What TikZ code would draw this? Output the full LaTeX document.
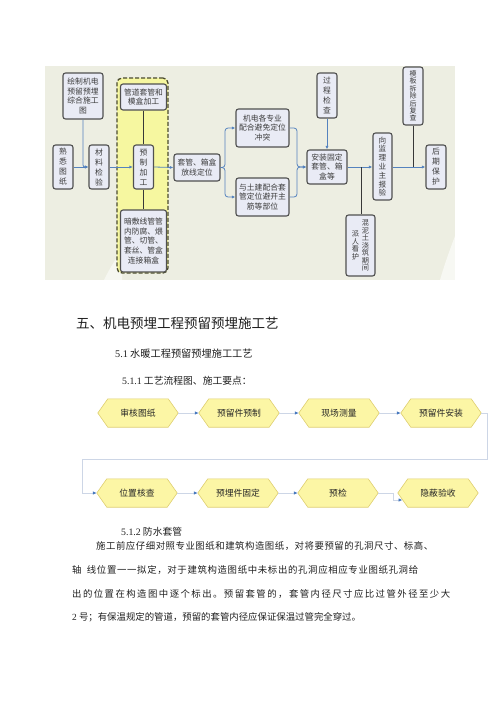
\documentclass[tikz,border=0pt]{standalone}
\usepackage{fontspec}
\setmainfont{Noto Sans CJK SC}
\newfontfamily\tnr{Liberation Serif}
\usetikzlibrary{arrows.meta}
\definecolor{panelbg}{RGB}{237,238,226}
\definecolor{boxfill}{RGB}{233,235,245}
\definecolor{boxdraw}{RGB}{80,80,80}
\definecolor{boxtext}{RGB}{60,60,60}
\definecolor{flowblue}{RGB}{84,130,190}
\definecolor{hlyellow}{RGB}{246,247,160}
\definecolor{hldraw}{RGB}{75,75,45}
\definecolor{hexfill}{RGB}{252,246,165}
\definecolor{hexdraw}{RGB}{222,206,112}
\definecolor{lineblue}{RGB}{205,214,230}
\definecolor{tipblue}{RGB}{70,120,190}
\definecolor{bodytext}{RGB}{30,30,30}
\pgfdeclarelayer{bg}
\pgfsetlayers{bg,main}
\makeatletter
\def\spr@aux#1#2\relax{#1\ifx\relax#2\relax\else\hfill\spr@aux#2\relax\fi}
\newcommand\spreadline[2]{\hbox to #1{\spr@aux#2\relax}}
\makeatother
\def\gap{\hskip4pt}
\newcommand\vcol[1]{\parbox[c]{8pt}{\centering #1}}
\tikzset{
  box/.style={draw=boxdraw, line width=1.1pt, fill=boxfill, rounded corners=2.5pt,
    inner sep=0pt, align=center, text=boxtext, font=\fontsize{7.8}{9.6}\selectfont},
  vbox/.style={box, font=\fontsize{7.8}{10}\selectfont},
  flow/.style={draw=flowblue, line width=0.8pt, -{Latex[length=3.5pt,width=3pt]}},
  plain/.style={draw=boxdraw!70!black, line width=0.9pt},
  hlregion/.style={draw=hldraw, fill=hlyellow, line width=1.3pt, dash pattern=on 4pt off 2pt, rounded corners=5pt, inner sep=0pt},
  hexlabel/.style={font=\fontsize{8.8}{10}\selectfont, text=black!85, minimum width=80pt, minimum height=28pt, inner sep=0pt},
  hexshape/.style={fill=hexfill, draw=hexdraw, line width=0.6pt},
  link/.style={draw=lineblue, line width=0.9pt, -{Latex[length=4pt,width=3.5pt,color=tipblue]}},
  txt/.style={anchor=west, inner sep=0pt, text=bodytext},
}
\newcommand\hexnode[4]{%
  \node[hexlabel] (#1) at (#2,#3) {#4};
  \begin{pgfonlayer}{bg}
  \path[hexshape] (#1.west) -- ([xshift=10pt]#1.north west) -- ([xshift=-10pt]#1.north east)
     -- (#1.east) -- ([xshift=-10pt]#1.south east) -- ([xshift=10pt]#1.south west) -- cycle;
  \end{pgfonlayer}}
\begin{document}
\begin{tikzpicture}[x=1pt,y=-1pt]
\useasboundingbox (0,0) rectangle (500,707);
% panel
\fill[panelbg] (45,66) rectangle (455,280);
\fill[white, opacity=0.55] (104,280) .. controls (110,268) and (116,258) .. (122,250) -- (122,280) -- cycle;
\fill[white, opacity=0.6] (455,236) .. controls (449,252) and (444,266) .. (440,280) -- (455,280) -- cycle;
\node[hlregion, minimum width=51pt, minimum height=195pt] (hl) at (142.5,175.5) {};
% boxes
\node[vbox, minimum width=20pt, minimum height=44pt] (shutu) at (63,167) {熟\\悉\\图\\纸};
\node[box, minimum width=40pt, minimum height=46pt] (huizhi) at (83,96) {绘制机电\\预留预埋\\综合施工\\图};
\node[vbox, minimum width=20pt, minimum height=44pt] (cailiao) at (99,167) {材\\料\\检\\验};
\node[box, minimum width=46pt, minimum height=26pt] (guandao) at (143.5,97) {管道套管和\\模盒加工};
\node[vbox, minimum width=20pt, minimum height=44pt] (yuzhi) at (143.5,167) {预\\制\\加\\工};
\node[box, minimum width=46pt, minimum height=62pt] (anfu) at (143.5,241) {暗敷线管管\\内防腐、煨\\管、切管、\\套丝、管盒\\连接箱盒};
\node[box, minimum width=46pt, minimum height=27pt] (taoguan) at (197,167.5) {套管、箱盒\\放线定位};
\node[box, minimum width=53pt, minimum height=38pt] (jidian) at (262.5,128) {机电各专业\\配合避免定位\\冲突};
\node[box, minimum width=53pt, minimum height=38pt] (tujian) at (262.5,197) {与土建配合套\\管定位避开主\\筋等部位};
\node[vbox, minimum width=20pt, minimum height=45pt] (guocheng) at (327,95.5) {过\\程\\检\\查};
\node[box, minimum width=40pt, minimum height=34pt] (anzhuang) at (327,167) {安装固定\\套管、箱\\盒等};
\node[box, minimum width=29pt, minimum height=61pt, font=\fontsize{7.2}{7.5}\selectfont] (hunni) at (360.5,245.5)
  {\vcol{派\\人\\看\\护}\hspace{2pt}\vcol{混\\泥\\土\\浇\\筑\\期\\间}};
\node[box, minimum width=19pt, minimum height=67pt, font=\fontsize{7.6}{8.8}\selectfont] (xiangjian) at (382.5,166.5) {向\\监\\理\\业\\主\\报\\验};
\node[box, minimum width=20pt, minimum height=58pt, font=\fontsize{7}{7.4}\selectfont] (muban) at (413,96) {模\\板\\拆\\除\\后\\复\\查};
\node[vbox, minimum width=20pt, minimum height=44pt] (houqi) at (436,167) {后\\期\\保\\护};
% connectors top
\draw[flow] (shutu.east) -- (cailiao.west);
\draw[flow, rounded corners=2pt] (huizhi.south) |- (cailiao.west);
\draw[flow] (cailiao.east) -- (yuzhi.west);
\draw[flow] (yuzhi.east) -- (taoguan.west);
\draw[plain] (guandao.south) -- (guandao.south |- yuzhi.north);
\draw[plain] (yuzhi.south) -- (yuzhi.south |- anfu.north);
\coordinate (br1) at (225,167.5);
\draw[flow, rounded corners=3pt] (taoguan.east) -- (br1) |- (jidian.west);
\draw[flow, rounded corners=3pt] (taoguan.east) -- (br1) |- (tujian.west);
\coordinate (br2) at (297,167);
\draw[flow, rounded corners=3pt] (jidian.east) -| (br2) -- (anzhuang.west);
\draw[flow, rounded corners=3pt] (tujian.east) -| (br2) -- (anzhuang.west);
\draw[flow] (guocheng.south) -- (anzhuang.north);
\draw[flow] (anzhuang.east) -- (xiangjian.west |- anzhuang.east);
\coordinate (br3) at (361,167);
\draw[plain] (br3) -- (br3 |- hunni.north);
\draw[flow] (xiangjian.east |- houqi.west) -- (houqi.west);
\draw[plain] (muban.south) -- (muban.south |- houqi.west);
% texts
\node[txt, font=\fontsize{13.5}{16}\selectfont] (t1) at (76,323) {五、机电预埋工程预留预埋施工艺};
\node[txt, font=\fontsize{10.2}{12}\selectfont] (t2) at (115,354) {{\tnr 5.1} 水暖工程预留预埋施工工艺};
\node[txt, font=\fontsize{9.8}{12}\selectfont] (t3) at (122,381) {{\tnr 5.1.1} 工艺流程图、施工要点：};
% hexagons
\hexnode{h1}{138}{413}{审核图纸}
\hexnode{h2}{239}{413}{预留件预制}
\hexnode{h3}{339}{413}{现场测量}
\hexnode{h4}{441}{413}{预留件安装}
\hexnode{h5}{137}{493}{位置核查}
\hexnode{h6}{238}{493}{预埋件固定}
\hexnode{h7}{338}{493}{预检}
\hexnode{h8}{438}{493}{隐蔽验收}
\draw[link] (h1.east) -- (h2.west);
\draw[link] (h2.east) -- (h3.west);
\draw[link] (h3.east) -- (h4.west);
\coordinate (c1) at (487,413);
\coordinate (c2) at (487,459);
\coordinate (c3) at (82,459);
\draw[link] (h4.east) -- (c1) -- (c2) -- (c3) |- (h5.west);
\draw[link] (h5.east) -- (h6.west);
\draw[link] (h6.east) -- (h7.west);
\coordinate (k1) at (393,500);
\coordinate (k2) at (402.5,500);
\draw[link] (h7.east) -| (k1) -- (k2);
% lower texts
\node[txt, font=\fontsize{9.8}{12}\selectfont] (t4) at (121,532) {{\tnr 5.1.2} 防水套管};
\node[txt, font=\fontsize{9.4}{12}\selectfont] (p1) at (96,546) {\spreadline{337pt}{施工前应仔细对照专业图纸和建筑构造图纸，对将要预留的孔洞尺寸、标高、}};
\node[txt, font=\fontsize{9.4}{12}\selectfont] (p2) at (72,570) {\spreadline{346pt}{轴\gap 线位置一一拟定，对于建筑构造图纸中未标出的孔洞应相应专业图纸孔洞给}};
\node[txt, font=\fontsize{9.4}{12}\selectfont] (p3) at (72,594) {\spreadline{378pt}{出的位置在构造图中逐个标出。预留套管的，套管内径尺寸应比过管外径至少大}};
\node[txt, font=\fontsize{9.4}{12}\selectfont] (p4) at (72,617) {{\tnr 2} 号；有保温规定的管道，预留的套管内径应保证保温过管完全穿过。};
\end{tikzpicture}
\end{document}
